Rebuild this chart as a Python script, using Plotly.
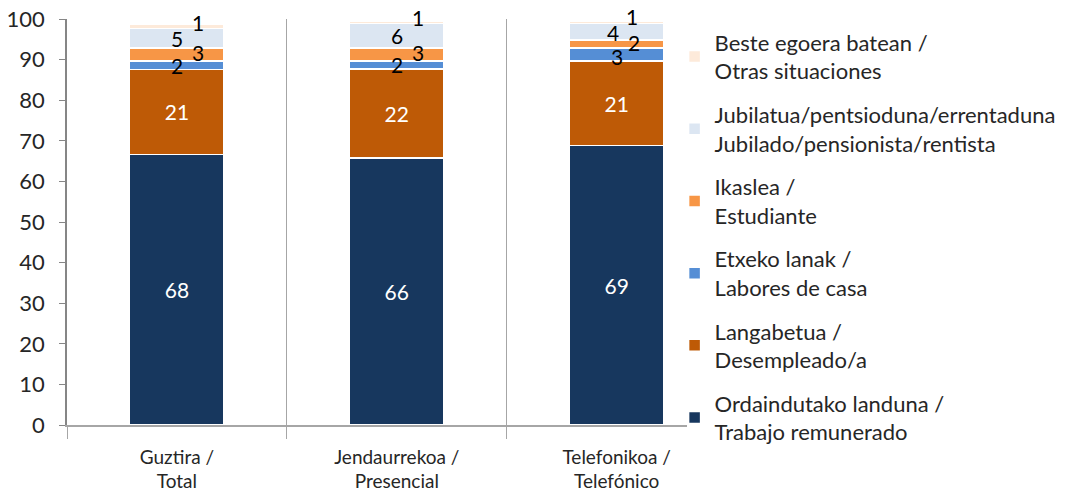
import plotly.graph_objects as go

categories = ["Guztira /<br>Total", "Jendaurrekoa /<br>Presencial", "Telefonikoa /<br>Telefónico"]

series_names = [
    "Ordaindutako landuna /<br>Trabajo remunerado",
    "Langabetua /<br>Desempleado/a",
    "Etxeko lanak /<br>Labores de casa",
    "Ikaslea /<br>Estudiante",
    "Jubilatua/pentsioduna/errentaduna<br>Jubilado/pensionista/rentista",
    "Beste egoera batean /<br>Otras situaciones",
]

# bar heights
ordaindutako = [66.6, 65.8, 68.8]
langabetua = [21.0, 21.9, 20.9]
etxeko = [2.1, 2.0, 3.1]
ikaslea = [3.1, 3.1, 2.0]
jubilatua = [4.9, 6.1, 4.1]
beste = [1.1, 0.6, 0.5]

# data labels as printed on the chart
lbl_ordaindutako = ["68", "66", "69"]
lbl_langabetua = ["21", "22", "21"]
lbl_etxeko = ["2", "2", "3"]
lbl_ikaslea = ["3", "3", "2"]
lbl_jubilatua = ["5", "6", "4"]
lbl_beste = ["1", "1", "1"]

series_values = [ordaindutako, langabetua, etxeko, ikaslea, jubilatua, beste]
series_labels = [lbl_ordaindutako, lbl_langabetua, lbl_etxeko, lbl_ikaslea, lbl_jubilatua, lbl_beste]
colors = ["#17375E", "#BE5A06", "#558ED5", "#F79646", "#DCE6F2", "#FDEADA"]

FONT = "Lato"
fig = go.Figure()
for i, (name, vals, lbls, col) in enumerate(zip(series_names, series_values, series_labels, colors)):
    inside = i < 2
    fig.add_trace(go.Bar(
        x=categories, y=vals, name=name,
        marker=dict(color=col, line=dict(color="white", width=1.5)),
        width=0.43,
        text=lbls if inside else None,
        textposition="inside" if inside else "none",
        insidetextanchor="middle",
        textfont=dict(color="white", size=21, family=FONT),
        legendgroup=f"g{i}",
        legendrank=len(series_names) - i,
        hoverinfo="skip",
    ))

# outside small labels (black), placed at segment midpoints with offsets
offsets = {
    2: [(0, 0), (0, 0), (0, -2)],
    3: [(21, 2), (21, 2), (17, 2)],
    4: [(0, 0), (0, 0), (-4, -1)],
    5: [(21, 4), (21, 5), (15, 6)],
}
annotations = []
for j, cat in enumerate(categories):
    base = 0.0
    for i, vals in enumerate(series_values):
        mid = base + vals[j] / 2
        base += vals[j]
        if i >= 2:
            dx, dy = offsets[i][j]
            annotations.append(dict(
                x=cat, y=mid, xref="x", yref="y", text=series_labels[i][j],
                showarrow=False, xshift=dx, yshift=dy,
                font=dict(size=21, color="#000000", family=FONT),
            ))

fig.update_layout(
    barmode="stack",
    width=1074, height=500,
    margin=dict(l=67, r=387, t=19, b=75, autoexpand=False),
    paper_bgcolor="white", plot_bgcolor="white",
    font=dict(family=FONT, size=20, color="#262626"),
    annotations=annotations,
    showlegend=True,
    legend=dict(
        traceorder="grouped",
        x=0.98, y=0.994, xanchor="left", yanchor="top",
        font=dict(size=22, family=FONT, color="#262626"),
        tracegroupgap=12,
        itemclick=False,
        maxheight=480,
        bgcolor="rgba(0,0,0,0)",
    ),
    xaxis=dict(
        type="category",
        range=[-0.5, 2.32],
        tickson="boundaries",
        ticks="outside", ticklen=12, tickcolor="#A6A6A6",
        showline=True, linecolor="#A6A6A6", linewidth=1.5,
        showgrid=True, gridcolor="#A6A6A6", gridwidth=1,
        tickfont=dict(size=19, family=FONT, color="#262626"),
        ticklabelstandoff=14,
        ticklabeloverflow="allow",
        automargin=False,
        fixedrange=True,
    ),
    yaxis=dict(
        range=[0, 100], dtick=10,
        ticks="outside", ticklen=6, tickcolor="#868686",
        showline=True, linecolor="#868686", linewidth=1.5,
        showgrid=False, zeroline=False,
        tickfont=dict(size=22, family=FONT, color="#262626"),
        ticklabelstandoff=10,
        ticklabeloverflow="allow",
        automargin=False,
        fixedrange=True,
    ),
)

# remove the browser's default 8px page margin so the figure fills the window
fig.write_html(
    "out.html",
    config={"displayModeBar": False},
    post_script="document.body.style.margin='0';",
)
